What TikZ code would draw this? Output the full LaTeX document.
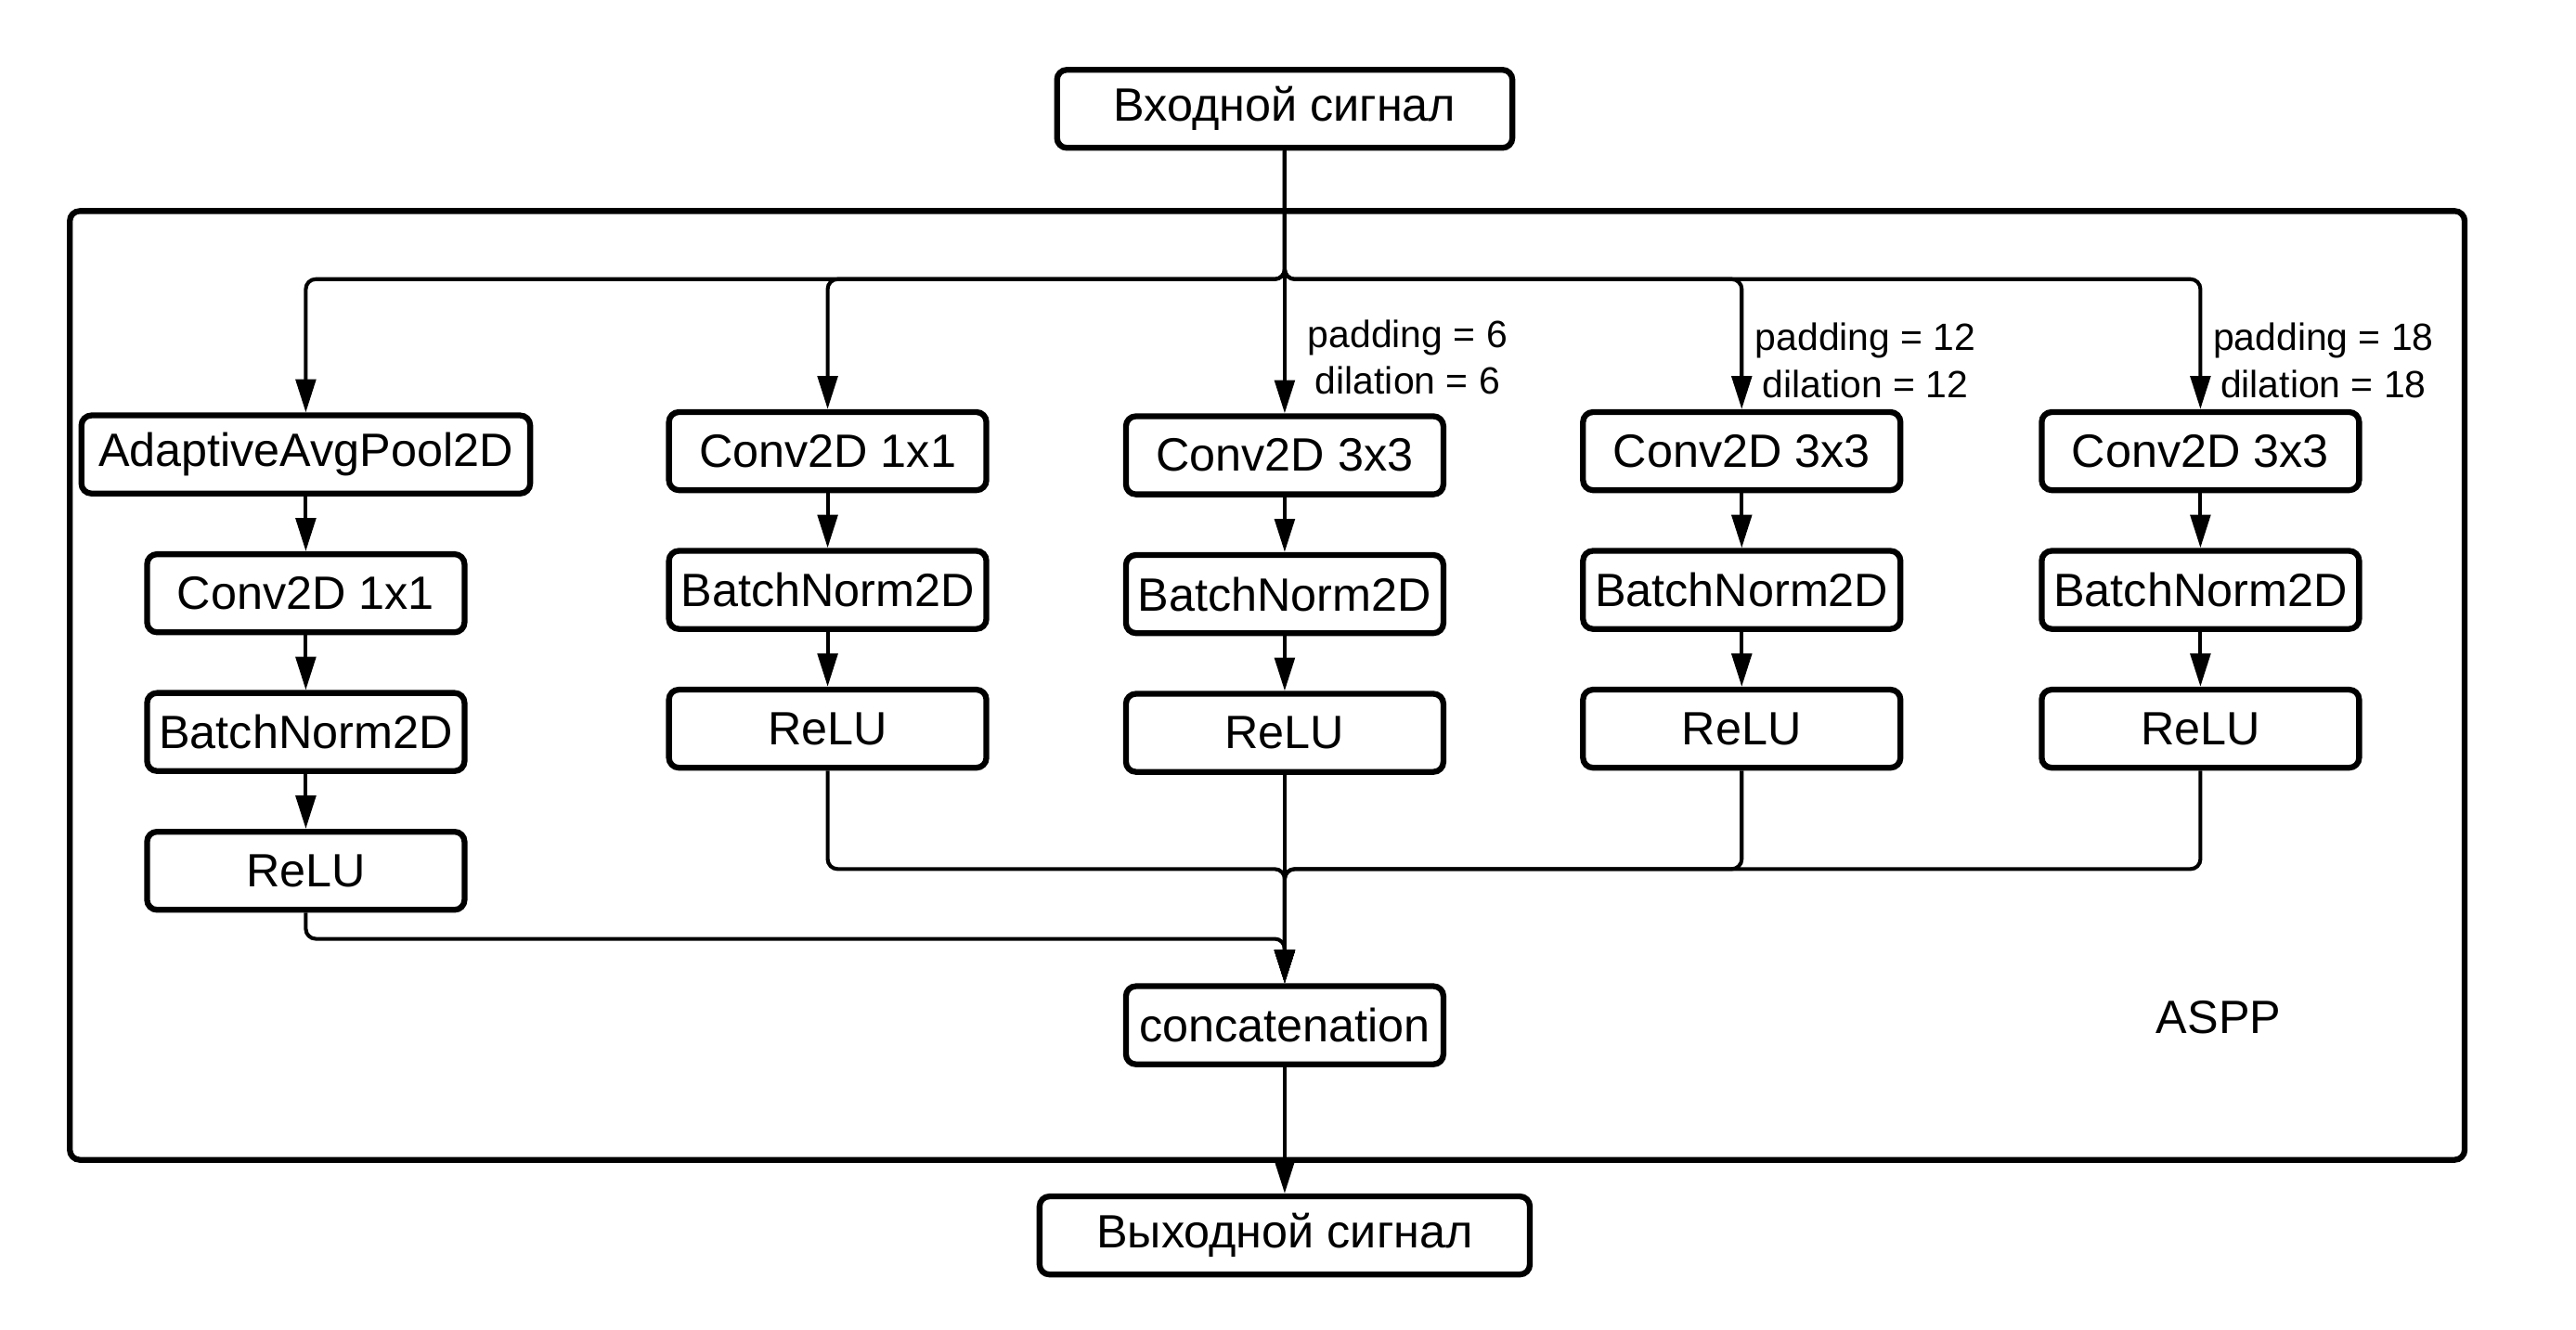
\documentclass[tikz,border=0pt]{standalone}
\usepackage{fontspec}
\setmainfont{Liberation Sans}
\usetikzlibrary{arrows.meta,positioning}

\begin{document}
\begin{tikzpicture}[
    node distance=0.66cm,
    block/.style={draw, line width=2pt, rounded corners=0.12cm, minimum height=0.94cm,
      minimum width=3.82cm, inner sep=0pt, font=\fontsize{16}{19}\selectfont, align=center},
    param/.style={font=\fontsize{13}{16}\selectfont, align=center, inner sep=0pt},
    conn/.style={draw, line width=1.3pt, rounded corners=0.12cm, -{Triangle[length=4mm,width=2.4mm]}}
  ]
\useasboundingbox (0,0) rectangle (31,-16.008);

% ASPP frame
\draw[line width=2pt, rounded corners=0.12cm] (0.84,-2.54) rectangle (29.66,-13.96);
\node[font=\fontsize{16}{19}\selectfont] (aspp) at (26.7,-12.24) {ASPP};

% Input and output
\node[block, minimum width=5.48cm] (in) at (15.46,-1.31) {Входной сигнал};
\node[block] (cat) at (15.46,-12.34) {concatenation};
\node[block, minimum width=5.9cm] (out) at (15.46,-14.87) {Выходной сигнал};

% Branch 1: pooling
\node[block, minimum width=5.4cm] (pool) at (3.68,-5.47) {AdaptiveAvgPool2D};
\node[block, below=of pool] (conva) {Conv2D 1x1};
\node[block, below=of conva] (bna) {BatchNorm2D};
\node[block, below=of bna] (relua) {ReLU};

% Branch 2: 1x1 conv
\node[block] (convb) at (9.96,-5.43) {Conv2D 1x1};
\node[block, below=of convb] (bnb) {BatchNorm2D};
\node[block, below=of bnb] (relub) {ReLU};

% Branches 3-5: dilated 3x3 conv
\node[block] (convc) at (15.46,-5.48) {Conv2D 3x3};
\node[block, below=of convc] (bnc) {BatchNorm2D};
\node[block, below=of bnc] (reluc) {ReLU};

\node[block] (convd) at (20.96,-5.43) {Conv2D 3x3};
\node[block, below=of convd] (bnd) {BatchNorm2D};
\node[block, below=of bnd] (relud) {ReLU};

\node[block] (conve) at (26.48,-5.43) {Conv2D 3x3};
\node[block, below=of conve] (bne) {BatchNorm2D};
\node[block, below=of bne] (relue) {ReLU};

% Dilation labels
\node[param] (parc) at (16.94,-4.30) {padding = 6\\dilation = 6};
\node[param] (pard) at (22.45,-4.34) {padding = 12\\dilation = 12};
\node[param] (pare) at (27.96,-4.34) {padding = 18\\dilation = 18};

% Split and merge points
\coordinate (split) at (15.46,-3.36);
\coordinate (merge) at (15.46,-10.46);
\coordinate (mergea) at (15.46,-11.30);

% Connectors
\draw[conn] (in.south) -- (convc.north);
\draw[conn] (in.south) -- (split) -| (pool.north);
\draw[conn] (in.south) -- (split) -| (convb.north);
\draw[conn] (in.south) -- (split) -| (convd.north);
\draw[conn] (in.south) -- (split) -| (conve.north);

\draw[conn] (pool) -- (conva);
\draw[conn] (conva) -- (bna);
\draw[conn] (bna) -- (relua);
\draw[conn] (convb) -- (bnb);
\draw[conn] (bnb) -- (relub);
\draw[conn] (convc) -- (bnc);
\draw[conn] (bnc) -- (reluc);
\draw[conn] (convd) -- (bnd);
\draw[conn] (bnd) -- (relud);
\draw[conn] (conve) -- (bne);
\draw[conn] (bne) -- (relue);

\draw[conn] (reluc.south) -- (cat.north);
\draw[conn] (relub.south) |- (merge) -- (cat.north);
\draw[conn] (relud.south) |- (merge) -- (cat.north);
\draw[conn] (relue.south) |- (merge) -- (cat.north);
\draw[conn] (relua.south) |- (mergea) -- (cat.north);

\draw[conn] (cat) -- (out);

\end{tikzpicture}
\end{document}
